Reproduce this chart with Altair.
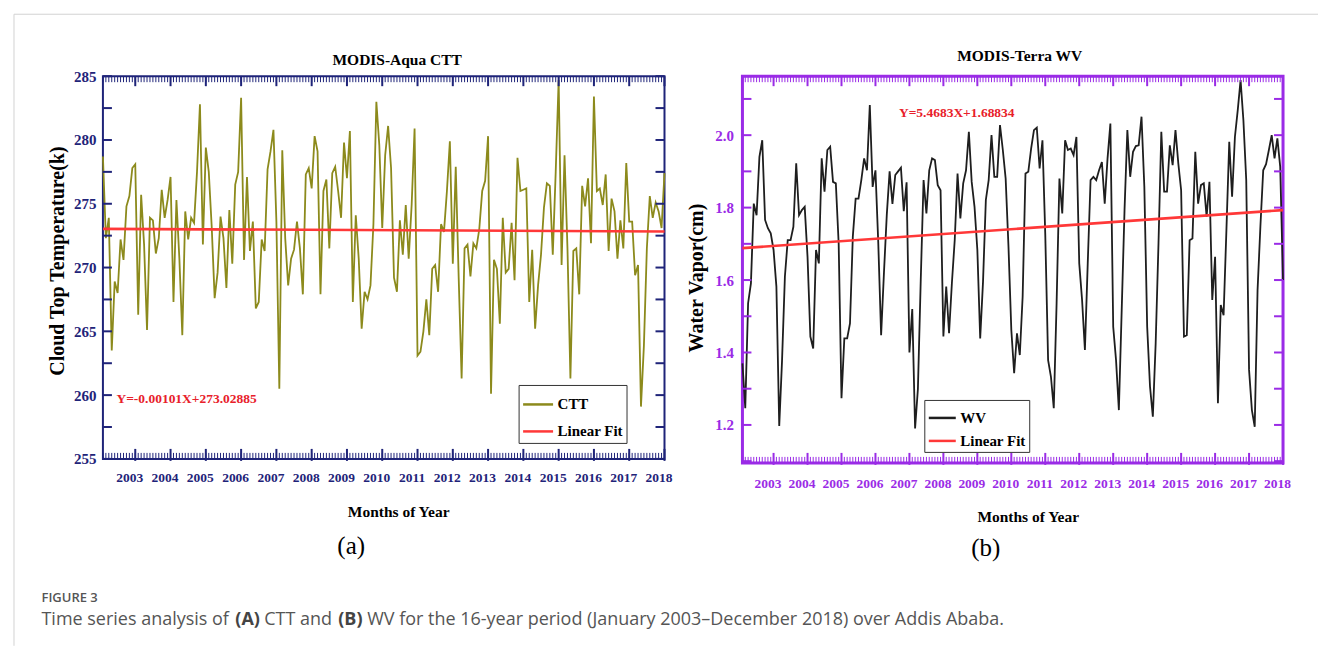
import altair as alt
import pandas as pd

# ---------------- data ----------------
months = list(range(192))

ctt = [
    278.7, 272.3, 273.9, 263.5, 268.9, 268.0, 272.2, 270.6, 274.8, 275.6, 277.8, 278.1,
    266.3, 275.7, 271.8, 265.1, 273.9, 273.7, 271.1, 272.3, 276.1, 273.9, 275.3, 277.1,
    267.3, 275.3, 270.7, 264.7, 274.4, 272.2, 273.9, 273.5, 277.5, 282.8, 271.8, 279.4,
    277.5, 273.2, 267.6, 269.6, 274.0, 272.3, 268.4, 274.5, 270.3, 276.5, 277.5, 283.3,
    270.6, 277.1, 271.3, 273.6, 266.8, 267.3, 272.2, 271.3, 277.7, 279.1, 280.8, 273.6,
    260.5, 279.2, 272.3, 268.6, 270.7, 271.4, 273.6, 271.5, 267.9, 277.3, 277.8, 276.2,
    280.3, 279.1, 267.9, 276.0, 276.9, 271.5, 277.4, 277.9, 276.0, 273.9, 279.8, 277.0,
    280.7, 267.3, 274.1, 270.7, 265.2, 268.1, 267.5, 268.6, 273.4, 283.0, 279.6,
    273.1, 278.8, 281.1, 277.8, 269.2, 268.1, 273.7, 271.0, 274.9, 270.7, 274.9, 280.9,
    263.1, 263.4, 265.0, 267.5, 264.7, 269.9, 270.2, 268.1, 273.4, 272.8, 276.0, 279.9,
    270.3, 277.9, 269.2, 261.3, 271.5, 271.8, 269.3, 271.9, 271.5, 273.0, 276.0, 276.8,
    280.3, 260.1, 270.6, 269.9, 265.6, 273.9, 269.6, 269.9, 273.5, 269.0, 278.6, 276.0,
    276.1, 276.2, 267.3, 271.4, 265.2, 268.6, 271.0, 274.7, 276.6, 276.4, 271.0, 277.5,
    284.7, 270.2, 278.8, 271.5, 261.3, 271.3, 271.5, 267.9, 276.4, 274.8, 277.0, 271.9,
    283.4, 276.0, 276.2, 274.9, 277.3, 271.3, 275.4, 274.4, 270.7, 273.7, 271.5, 278.2,
    273.6, 273.6, 269.4, 270.2, 259.1, 263.9, 271.5, 275.6, 273.9, 275.1, 274.4, 273.1,
    277.4,
]

wv = [
    1.370, 1.246, 1.536, 1.591, 1.811, 1.779, 1.940, 1.986, 1.766, 1.743, 1.729, 1.683,
    1.582, 1.197, 1.379, 1.609, 1.710, 1.710, 1.747, 1.922, 1.779, 1.793, 1.802, 1.664,
    1.444, 1.411, 1.683, 1.646, 1.936, 1.844, 1.959, 1.968, 1.871, 1.867, 1.701, 1.274,
    1.439, 1.439, 1.480, 1.720, 1.825, 1.825, 1.876, 1.936, 1.903, 2.083, 1.857, 1.903,
    1.701, 1.448, 1.62, 1.78, 1.90, 1.81, 1.89, 1.90, 1.91, 1.79, 1.87, 1.40,
    1.52, 1.19, 1.30, 1.60,
    1.876, 1.784, 1.903, 1.936, 1.931, 1.862, 1.848, 1.444, 1.582, 1.453, 1.591, 1.710,
    1.894, 1.770, 1.867, 1.903, 2.009, 1.871, 1.802, 1.683, 1.439, 1.595, 1.821, 1.876,
    2.000, 1.885, 1.885, 2.028, 1.959, 1.880, 1.692, 1.462, 1.343, 1.453, 1.393, 1.554,
    1.894, 1.899, 1.963, 2.014, 2.021, 1.908, 1.986, 1.724, 1.379, 1.333, 1.246, 1.536,
    1.880, 1.784, 1.986, 1.959, 1.963, 1.945, 1.995, 1.646, 1.545, 1.407, 1.646, 1.876,
    1.885, 1.876,
    1.903, 1.926, 1.811, 1.936, 2.032, 1.471, 1.379, 1.241, 1.517, 1.793, 2.014, 1.885,
    1.954, 1.970, 1.972, 2.051, 1.857, 1.471, 1.306, 1.223, 1.425, 1.701, 2.009, 1.844,
    1.844, 1.972, 1.917, 2.014, 1.922, 1.848, 1.444, 1.448, 1.710, 1.715, 1.954, 1.811,
    1.862, 1.867, 1.775, 1.871, 1.545, 1.664, 1.260, 1.531, 1.503, 1.738, 1.982, 1.830,
    1.995, 2.069, 2.152, 2.041, 1.876, 1.352, 1.241, 1.195, 1.572, 1.747, 1.903, 1.920,
    1.959, 2.000, 1.936, 1.991, 1.913, 1.600,
]

fit_months = [0, 191]
ctt_fit = [273.03, 272.83]
wv_fit = [1.688, 1.793]

year_labels = [str(y) for y in range(2003, 2019)]
year_tick_months = [11 + 12 * k for k in range(16)]

ctt_y_labels = [255, 260, 265, 270, 275, 280, 285]
ctt_y_ticks = [255, 257.5, 260, 262.5, 265, 267.5, 270, 272.5, 275, 277.5, 280, 282.5, 285]
wv_y_labels = [1.2, 1.4, 1.6, 1.8, 2.0]
wv_y_ticks = [1.1, 1.2, 1.3, 1.4, 1.5, 1.6, 1.7, 1.8, 1.9, 2.0, 2.1]

ctt_eq = "Y=-0.00101X+273.02885"
wv_eq = "Y=5.4683X+1.68834"

# ---------------- styling ----------------
SERIF = "Liberation Serif"
SANS = "Open Sans"
NAVY = "#1f2479"
PURPLE = "#9a2be6"
OLIVE = "#8c8a1c"
RED = "#ff3838"
EQRED = "#e8202a"
CAPGRAY = "#555555"

W1, H1 = 562, 383
W2, H2 = 541, 387

one = pd.DataFrame({"k": [0]})

label_expr = ("[" + ",".join("'%s'" % s for s in year_labels) + "][indexof(["
              + ",".join(str(m) for m in year_tick_months) + "], datum.value)]")


def text(t, x, y, **kw):
    return alt.Chart(one).mark_text(text=t, **kw).encode(x=alt.value(x), y=alt.value(y))


def panel(values, fit, names, field, color_line, line_w, frame_color, frame_w,
          W, H, ydom, ylabels, yticks, ylab_size, ytitle, ytitle_size, ytitle_xy,
          xtitle_xy, xlab_pad, ylab_pad, legend_xy, sym, leg_pad, row_pad,
          eq_text, eq_pos, title_text, title_xy, letter, letter_xy, extra=None):
    xs = alt.Scale(domain=[0, 191], nice=False, zero=False)
    ys = alt.Scale(domain=ydom, nice=False, zero=False)
    xaxis = alt.Axis(
        values=year_tick_months, labelExpr=label_expr, ticks=False, tickSize=0,
        domain=False, grid=False, labelFont=SERIF, labelFontSize=13.5,
        labelFontWeight="bold", labelColor=frame_color, labelPadding=xlab_pad,
        labelOffset=-6, labelFlush=False, labelOverlap=False, labelSeparation=0,
        labelBound=False,
        title="Months of Year", titleFont=SERIF, titleFontSize=15.5,
        titleFontWeight="bold", titleColor="black", titleX=xtitle_xy[0],
        titleY=xtitle_xy[1], titleBaseline="middle", titleAlign="center",
    )
    yaxis = alt.Axis(
        values=ylabels, ticks=False, tickSize=0, domain=False, grid=False,
        labelFont=SERIF, labelFontSize=ylab_size, labelFontWeight="bold",
        labelColor=frame_color, labelPadding=ylab_pad, labelFlush=False,
        labelOverlap=False, format=".1f" if ydom[1] < 10 else "d",
        title=ytitle, titleFont=SERIF, titleFontSize=ytitle_size,
        titleFontWeight="bold", titleColor="black", titleX=ytitle_xy[0],
        titleY=ytitle_xy[1], titleAngle=-90, titleBaseline="middle",
        titleAlign="center",
    )
    X = lambda: alt.X("m:Q", scale=xs, axis=xaxis)
    Y = lambda: alt.Y("v:Q", scale=ys, axis=yaxis)
    color = alt.Color(
        field + ":N",
        scale=alt.Scale(domain=names, range=[color_line, RED]),
        legend=alt.Legend(
            title=None, orient="none", legendX=legend_xy[0], legendY=legend_xy[1],
            direction="vertical", strokeColor="#333333", fillColor="white",
            padding=leg_pad, symbolType="stroke", symbolSize=sym * sym,
            symbolStrokeWidth=2.5, labelFont=SERIF, labelFontSize=15,
            labelFontWeight="bold", labelColor="black", labelOffset=3,
            rowPadding=row_pad, labelLimit=200,
        ),
    )
    df_s = pd.DataFrame({"m": months, "v": values, field: names[0]})
    df_f = pd.DataFrame({"m": fit_months, "v": fit, field: names[1]})
    df_m = pd.DataFrame({"m": months})
    df_yr = pd.DataFrame({"m": year_tick_months})
    df_yt = pd.DataFrame({"v": yticks})

    series = alt.Chart(df_s).mark_line(strokeWidth=line_w).encode(
        x=X(), y=Y(), color=color)
    fitl = alt.Chart(df_f).mark_line(strokeWidth=2.6).encode(
        x=X(), y=Y(), color=color)

    minor_top = alt.Chart(df_m).mark_rule(color=frame_color, strokeWidth=1).encode(
        x=X(), y=alt.value(0), y2=alt.value(6))
    minor_bot = alt.Chart(df_m).mark_rule(color=frame_color, strokeWidth=1).encode(
        x=X(), y=alt.value(H), y2=alt.value(H - 6))
    major_top = alt.Chart(df_yr).mark_rule(color=frame_color, strokeWidth=2).encode(
        x=X(), y=alt.value(0), y2=alt.value(10))
    major_bot = alt.Chart(df_yr).mark_rule(color=frame_color, strokeWidth=2).encode(
        x=X(), y=alt.value(H + 2), y2=alt.value(H - 10))
    yt_left = alt.Chart(df_yt).mark_rule(color=frame_color, strokeWidth=2).encode(
        y=Y(), x=alt.value(0), x2=alt.value(9))
    yt_right = alt.Chart(df_yt).mark_rule(color=frame_color, strokeWidth=2).encode(
        y=Y(), x=alt.value(W), x2=alt.value(W - 9))

    eq = alt.Chart(pd.DataFrame({"m": [eq_pos[0]], "v": [eq_pos[1]], "t": [eq_text]})).mark_text(
        align="left", baseline="middle", font=SERIF, fontSize=13.5, fontWeight="bold",
        color=EQRED).encode(x=X(), y=Y(), text="t:N")

    ttl = text(title_text, title_xy[0], title_xy[1], font=SERIF, fontSize=15.5,
               fontWeight="bold", color="black", align="center", baseline="middle")
    let = text(letter, letter_xy[0], letter_xy[1], font=SERIF, fontSize=25,
               color="black", align="center", baseline="middle")

    layers = [series, fitl, minor_top, minor_bot, major_top, major_bot,
              yt_left, yt_right, eq, ttl, let]
    if extra:
        layers += extra
    return alt.layer(*layers).properties(
        width=W, height=H,
        view=alt.ViewBackground(stroke=frame_color, strokeWidth=frame_w),
    )


# caption & border (drawn relative to the left plot origin)
border_v = alt.Chart(one).mark_rule(color="#d2d2d2", strokeWidth=1).encode(
    x=alt.value(-89), y=alt.value(-62), y2=alt.value(570))
border_h = alt.Chart(one).mark_rule(color="#d2d2d2", strokeWidth=1).encode(
    x=alt.value(-89), x2=alt.value(1216), y=alt.value(-62))
cap_y1, cap_y2 = 522, 544.5
CAPSIZE = 18
caption = [
    border_v, border_h,
    text("FIGURE 3", -61.5, cap_y1, font=SANS, fontSize=13, fontWeight=600,
         color=CAPGRAY, align="left", baseline="middle"),
    text("Time series analysis of", -61.5, cap_y2, font=SANS, fontSize=CAPSIZE,
         color=CAPGRAY, align="left", baseline="middle"),
    text("(A)", 132.5, cap_y2, font=SANS, fontSize=CAPSIZE, fontWeight="bold",
         color="#444444", align="left", baseline="middle"),
    text("CTT and", 161.5, cap_y2, font=SANS, fontSize=CAPSIZE,
         color=CAPGRAY, align="left", baseline="middle"),
    text("(B)", 235.5, cap_y2, font=SANS, fontSize=CAPSIZE, fontWeight="bold",
         color="#444444", align="left", baseline="middle"),
    text("WV for the 16-year period (January 2003\u2013December 2018) over Addis Ababa.",
         264.5, cap_y2, font=SANS, fontSize=CAPSIZE, color=CAPGRAY, align="left",
         baseline="middle"),
]

left = panel(
    ctt, ctt_fit, ["CTT", "Linear Fit"], "s1", OLIVE, 1.8, NAVY, 2,
    W1, H1, [255, 285], ctt_y_labels, ctt_y_ticks, 15, "Cloud Top Temperature(k)", 20,
    (-45.5, 184.5), (295.5, 52.5), 12, 7, (416, 309), 30, 3, 2,
    ctt_eq, (4.6, 259.7), "MODIS-Aqua CTT", (294.5, -16.5), "(a)", (248.5, 470.5),
    extra=caption,
)

right = panel(
    wv, wv_fit, ["WV", "Linear Fit"], "s2", "#1e1e1e", 1.8, PURPLE, 3,
    W2, H2, [1.0952, 2.1628], wv_y_labels, wv_y_ticks, 15, "Water Vapor(cm)", 20,
    (-45.5, 201.5), (285.5, 53.5), 14, 9, (182, 324), 27, 3, 0,
    wv_eq, (55.3, 2.061), "MODIS-Terra WV", (277.5, -20.5), "(b)", (243.5, 472.5),
)

chart = alt.hconcat(left, right, spacing=78, bounds="flush").resolve_scale(
    color="independent", x="independent", y="independent"
).properties(
    padding={"left": 12, "top": 12, "right": 0, "bottom": 0},
    background="white",
).configure_view(strokeWidth=0)

chart.save("out.html", embed_options={"renderer": "svg", "actions": False})
